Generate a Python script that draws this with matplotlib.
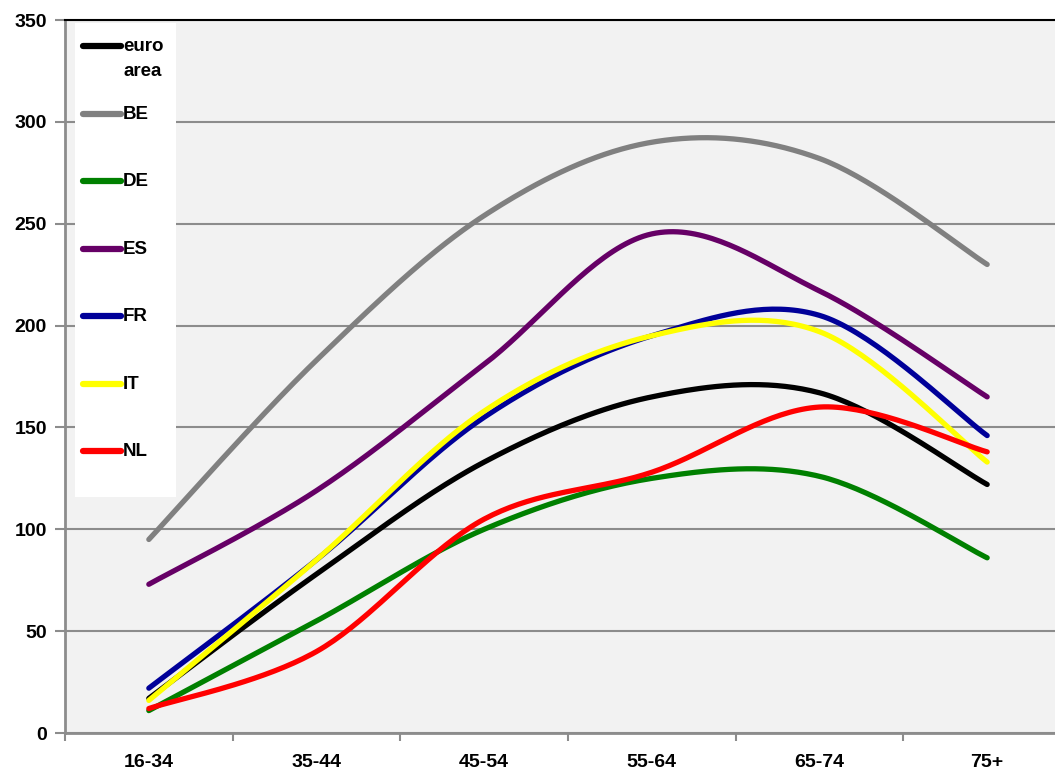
import numpy as np
import matplotlib
matplotlib.use("Agg")
import matplotlib.pyplot as plt
from matplotlib.patches import Rectangle
from matplotlib.lines import Line2D

plt.rcParams['font.family'] = ['Liberation Sans', 'DejaVu Sans']

ages = ["16-34", "35-44", "45-54", "55-64", "65-74", "75+"]

euro_area = [17, 78, 133, 165, 167, 122]
be = [95, 183, 254, 290, 282, 230]
de = [11, 55, 100, 125, 126, 86]
es = [73, 119, 181, 245, 217, 165]
fr = [22, 85, 155, 195, 205, 146]
it = [16, 85, 158, 195, 197, 133]
nl = [12, 40, 105, 128, 160, 138]

names = ["euro\narea", "BE", "DE", "ES", "FR", "IT", "NL"]
series = [euro_area, be, de, es, fr, it, nl]
colors = ["#000000", "#808080", "#008000", "#660066", "#000099", "#FFFF00", "#FF0000"]


def smooth(xs, ys, n=40):
    # Catmull-Rom curve through the points, like Excel's "smoothed line"
    p = np.column_stack([xs, ys]).astype(float)
    p = np.vstack([p[0], p, p[-1]])
    out = []
    t = np.linspace(0, 1, n)
    for i in range(1, len(p) - 2):
        p0, p1, p2, p3 = p[i - 1], p[i], p[i + 1], p[i + 2]
        c1 = p1 + (p2 - p0) / 6
        c2 = p2 - (p3 - p1) / 6
        seg = ((1 - t) ** 3)[:, None] * p1 + (3 * (1 - t) ** 2 * t)[:, None] * c1 \
            + (3 * (1 - t) * t ** 2)[:, None] * c2 + (t ** 3)[:, None] * p2
        out.append(seg)
    out = np.vstack(out)
    return out[:, 0], out[:, 1]


fig = plt.figure(figsize=(10.55, 7.69), dpi=100)
ax = fig.add_axes([65 / 1055, 1 - 733 / 769, 1006 / 1055, 713 / 769])
ax.set_facecolor("#F2F2F2")

x = np.arange(len(ages))
for vals, c in zip(series, colors):
    sx, sy = smooth(x, vals)
    ax.plot(sx, sy, color=c, lw=3.8, solid_capstyle="round", zorder=3)

ax.set_xlim(-0.5, len(ages) - 0.5)
ax.set_ylim(0, 350)
ax.set_yticks(range(0, 351, 50))
ax.yaxis.grid(True, color="#8C8C8C", lw=1.5)
ax.set_axisbelow(True)

ax.set_xticks(x)
ax.set_xticklabels(ages)
ax.set_xticks(np.arange(-0.5, len(ages), 1), minor=True)
ax.tick_params(axis="x", which="major", length=0, pad=15)
ax.tick_params(axis="x", which="minor", length=6, width=1.5, color="#8C8C8C", direction="out")
ax.tick_params(axis="y", length=7, width=1.5, color="#8C8C8C", pad=6)
for lab in ax.get_xticklabels() + ax.get_yticklabels():
    lab.set_fontsize(14)
    lab.set_fontweight("bold")

for s in ["left", "bottom"]:
    ax.spines[s].set_color("#8C8C8C")
    ax.spines[s].set_linewidth(2)
ax.spines["top"].set_color("#000000")
ax.spines["top"].set_linewidth(1.5)
ax.spines["right"].set_visible(False)

# legend box drawn by hand on the left
tr = ax.transAxes
box = Rectangle((10 / 1006, (733 - 497) / 713), 101 / 1006, 474 / 713,
                transform=tr, facecolor="white", edgecolor="none", zorder=4)
ax.add_patch(box)
for i, (nm, c) in enumerate(zip(names, colors)):
    yy = (733 - (46 + i * 67.5)) / 713
    ax.add_line(Line2D([18 / 1006, 56 / 1006], [yy, yy], transform=tr, color=c,
                       lw=4.5, solid_capstyle="round", zorder=5))
    ax.text(58 / 1006, yy + 0.011, nm, transform=tr, fontsize=13.5, fontweight="bold",
            va="top", ha="left", linespacing=1.6, zorder=5)

fig.savefig("out.png", dpi=100)
